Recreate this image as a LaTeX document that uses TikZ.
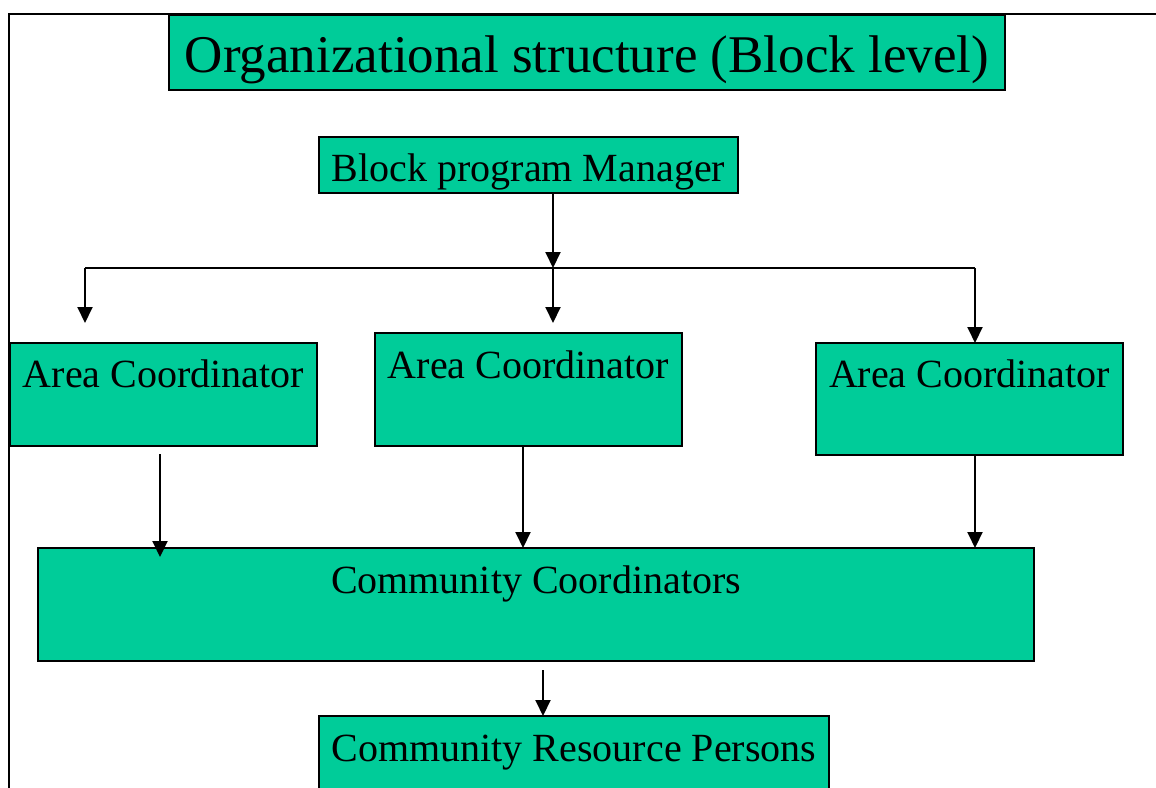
\documentclass[tikz,border=0pt]{standalone}
\usepackage{fontspec}
\setmainfont{Liberation Serif}
\usetikzlibrary{arrows.meta}
\definecolor{boxgreen}{HTML}{00CC99}
\tikzset{
  box/.style={draw=black, line width=2pt, fill=boxgreen, inner sep=0pt, outer sep=0pt, anchor=north west},
  txt/.style={anchor=base, inner sep=0pt, font=\fontsize{40}{44}\selectfont},
  ttl/.style={anchor=base, inner sep=0pt, font=\fontsize{53}{58}\selectfont},
  arr/.style={line width=2pt, -{Triangle[width=15pt,length=16pt]}},
  conn/.style={line width=2pt},
  frame/.style={line width=2pt}
}
\begin{document}
\begin{tikzpicture}[x=1pt,y=-1pt]
\clip (0,0) rectangle (1156,787);
\fill[white] (0,0) rectangle (1156,787);
% frame
\draw[frame] (9,800) -- (9,14) -- (1170,14);
% title
\node[box, minimum width=836pt, minimum height=75pt] (title) at (169,15) {};
\node[ttl] (titlet) at (587,72) {Organizational structure (Block level)};
% manager
\node[box, minimum width=419pt, minimum height=56pt] (bpm) at (319,137) {};
\node[txt] (bpmt) at (528.5,181) {Block program Manager};
% area coordinators
\node[box, minimum width=307pt, minimum height=103pt] (ac1) at (10,343) {};
\node[txt] (ac1t) at (163.5,387) {Area Coordinator};
\node[box, minimum width=307pt, minimum height=113pt] (ac2) at (375,333) {};
\node[txt] (ac2t) at (528.5,378) {Area Coordinator};
\node[box, minimum width=307pt, minimum height=112pt] (ac3) at (816,343) {};
\node[txt] (ac3t) at (969.5,387) {Area Coordinator};
% community coordinators
\node[box, minimum width=996pt, minimum height=113pt] (cc) at (38,548) {};
\node[txt] (cct) at (536,593) {Community Coordinators};
% community resource persons
\node[box, minimum width=510pt, minimum height=110pt] (crp) at (319,716) {};
\node[txt] (crpt) at (574,761) {Community Resource Persons};
% connectors
\coordinate (j) at (553,268);
\coordinate (jl) at (85,268);
\coordinate (jr) at (975,268);
\coordinate (e1) at (85,323);
\coordinate (e2) at (553,323);
\draw[arr] (j |- bpm.south) -- (j);
\draw[conn] (jl) -- (jr);
\draw[arr] (jl) -- (e1);
\draw[arr] (j) -- (e2);
\draw[arr] (jr) -- (jr |- ac3.north);
\draw[arr] ([shift={(-3.5,8)}]ac1.south) -- ([shift={(-3.5,9)}]ac1.south |- cc.north);
\draw[arr] ([xshift=-5.5pt]ac2.south) -- ([xshift=-5.5pt]ac2.south |- cc.north);
\draw[arr] ([xshift=5.5pt]ac3.south) -- ([xshift=5.5pt]ac3.south |- cc.north);
\draw[arr] ([shift={(7,9)}]cc.south) -- ([xshift=-31pt]crp.north);
\end{tikzpicture}
\end{document}
